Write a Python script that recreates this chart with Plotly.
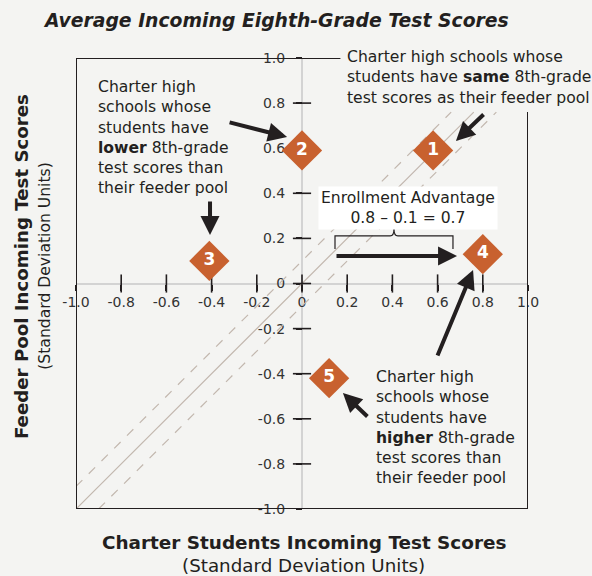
import plotly.graph_objects as go

# schools: charter vs feeder pool incoming scores (std dev units)
school_ids = ["1", "2", "3", "4", "5"]
charter_scores = [0.58, 0.0, -0.41, 0.80, 0.12]
feeder_scores = [0.59, 0.59, 0.10, 0.13, -0.42]

tick_vals = [-1.0, -0.8, -0.6, -0.4, -0.2, 0.0, 0.2, 0.4, 0.6, 0.8, 1.0]
tick_text = ["-1.0", "-0.8", "-0.6", "-0.4", "-0.2", "0", "0.2", "0.4", "0.6", "0.8", "1.0"]

band = 0.1          # "same" band around the diagonal
diag_end = 0.76     # where the diagonal lines stop

bg = "#f4f4f2"
ink = "#231f20"
orange = "#c8612f"
diag_col = "#c2b7ae"
font = "DejaVu Sans"

fig = go.Figure()

# diagonal: same scores, plus dashed band
fig.add_trace(go.Scatter(x=[-1, diag_end], y=[-1, diag_end], mode="lines",
                         line=dict(color=diag_col, width=1.2), hoverinfo="skip"))
fig.add_trace(go.Scatter(x=[-1, diag_end - band], y=[-1 + band, diag_end], mode="lines",
                         line=dict(color=diag_col, width=1.2, dash="dash"), hoverinfo="skip"))
fig.add_trace(go.Scatter(x=[-1 + band, diag_end + band], y=[-1, diag_end], mode="lines",
                         line=dict(color=diag_col, width=1.2, dash="dash"), hoverinfo="skip"))

# crossing tick marks on the zero axes
inner = [t for t in tick_vals if abs(t) < 1]
fig.add_trace(go.Scatter(x=inner, y=[0] * len(inner), mode="markers",
                         marker=dict(symbol="line-ns", size=13, line=dict(color=ink, width=1.6)),
                         hoverinfo="skip"))
fig.add_trace(go.Scatter(x=[0] * len(inner), y=inner, mode="markers",
                         marker=dict(symbol="line-ew", size=13, line=dict(color=ink, width=1.6)),
                         hoverinfo="skip"))

# the schools
fig.add_trace(go.Scatter(x=charter_scores, y=feeder_scores, mode="markers+text",
                         text=school_ids, textposition="middle center",
                         textfont=dict(family=font, size=17, color="white", weight="bold"),
                         marker=dict(symbol="diamond", size=31, color=orange),
                         hoverinfo="skip"))

# frame (open at top right for the text)
frame = [(-1, -1, -1, 1), (-1, -1, 1, -1), (-1, 1, 0.17, 1), (1, -1, 1, diag_end)]
for x0, y0, x1, y1 in frame:
    fig.add_shape(type="line", x0=x0, y0=y0, x1=x1, y1=y1, xref="x", yref="y",
                  line=dict(color=ink, width=2))

# bracket over enrollment advantage
fig.add_shape(type="path", xref="x", yref="y",
              path="M 0.146,0.153 L 0.146,0.211 L 0.39,0.211 Q 0.407,0.211 0.407,0.242 "
                   "Q 0.407,0.211 0.424,0.211 L 0.668,0.211 L 0.668,0.153",
              line=dict(color=ink, width=1.2))

txt = dict(family=font, size=15.6, color=ink)

def arrow(x, y, ax, ay):
    fig.add_annotation(x=x, y=y, ax=ax, ay=ay, xref="x", yref="y", axref="x", ayref="y",
                       text="", showarrow=True, arrowhead=2, arrowsize=0.95,
                       arrowwidth=4, arrowcolor=ink)

arrow(-0.066, 0.650, -0.327, 0.716)
arrow(-0.407, 0.215, -0.407, 0.370)
arrow(0.681, 0.632, 0.81, 0.756)
arrow(0.686, 0.122, 0.146, 0.122)
arrow(0.757, 0.060, 0.597, -0.326)
arrow(0.181, -0.486, 0.296, -0.596)

fig.add_annotation(x=-0.91, y=0.647, xref="x", yref="y", xanchor="left", yanchor="middle",
                   align="left", showarrow=False, font=txt,
                   text="Charter high<br>schools whose<br>students have<br><b>lower</b> 8th-grade"
                        "<br>test scores than<br>their feeder pool")
fig.add_annotation(x=0.19, y=0.913, xref="x", yref="y", xanchor="left", yanchor="middle",
                   align="left", showarrow=False, font=txt,
                   text="Charter high schools whose<br>students have <b>same</b> 8th-grade"
                        "<br>test scores as their feeder pool")
fig.add_annotation(x=0.317, y=-0.639, xref="x", yref="y", xanchor="left", yanchor="middle",
                   align="left", showarrow=False, font=txt,
                   text="Charter high<br>schools whose<br>students have<br><b>higher</b> 8th-grade"
                        "<br>test scores than<br>their feeder pool")
fig.add_annotation(x=0.471, y=0.335, xref="x", yref="y", xanchor="center", yanchor="middle",
                   align="center", showarrow=False, font=dict(family=font, size=15.6, color=ink),
                   bgcolor="white", borderpad=2,
                   text="Enrollment Advantage<br>0.8 – 0.1 = 0.7")

# axis titles
def title_note(x, y, text, size, bold=False, angle=0):
    fig.add_annotation(x=x, y=y, xref="paper", yref="paper", xanchor="center", yanchor="middle",
                       showarrow=False, textangle=angle, text=text,
                       font=dict(family=font, size=size, color=ink,
                                 weight="bold" if bold else "normal"))

title_note(0.504, -0.075, "Charter Students Incoming Test Scores", 18.4, bold=True)
title_note(0.504, -0.126, "(Standard Deviation Units)", 18.3)
title_note(-0.120, 0.538, "Feeder Pool Incoming Test Scores", 18.2, bold=True, angle=-90)
title_note(-0.069, 0.539, "(Standard Deviation Units)", 15.6, angle=-90)

axis_common = dict(range=[-1, 1], tickvals=tick_vals, ticktext=tick_text, showgrid=False,
                   zeroline=True, zerolinecolor="#d3d3d3", zerolinewidth=1.6, showline=False,
                   ticks="outside", ticklen=6, tickwidth=1.6, tickcolor=ink,
                   tickfont=dict(family=font, size=14, color="#333333"),
                   anchor="free", position=0.5, layer="below traces", fixedrange=True)

fig.update_layout(
    width=592, height=576,
    margin=dict(l=76, r=64, t=58, b=67),
    paper_bgcolor=bg, plot_bgcolor=bg,
    showlegend=False,
    title=dict(text="Average Incoming Eighth-Grade Test Scores", x=0.076, xanchor="left",
               y=0.965, yanchor="middle",
               font=dict(family=font, size=18.8, color=ink, style="italic", weight="bold")),
    xaxis=dict(**axis_common),
    yaxis=dict(**axis_common, ticklabelstandoff=8),
)

# drop the page's default body margin so the figure fills the window
fig.write_html("out.html", config={"displayModeBar": False},
               post_script="document.body.style.margin='0';")
